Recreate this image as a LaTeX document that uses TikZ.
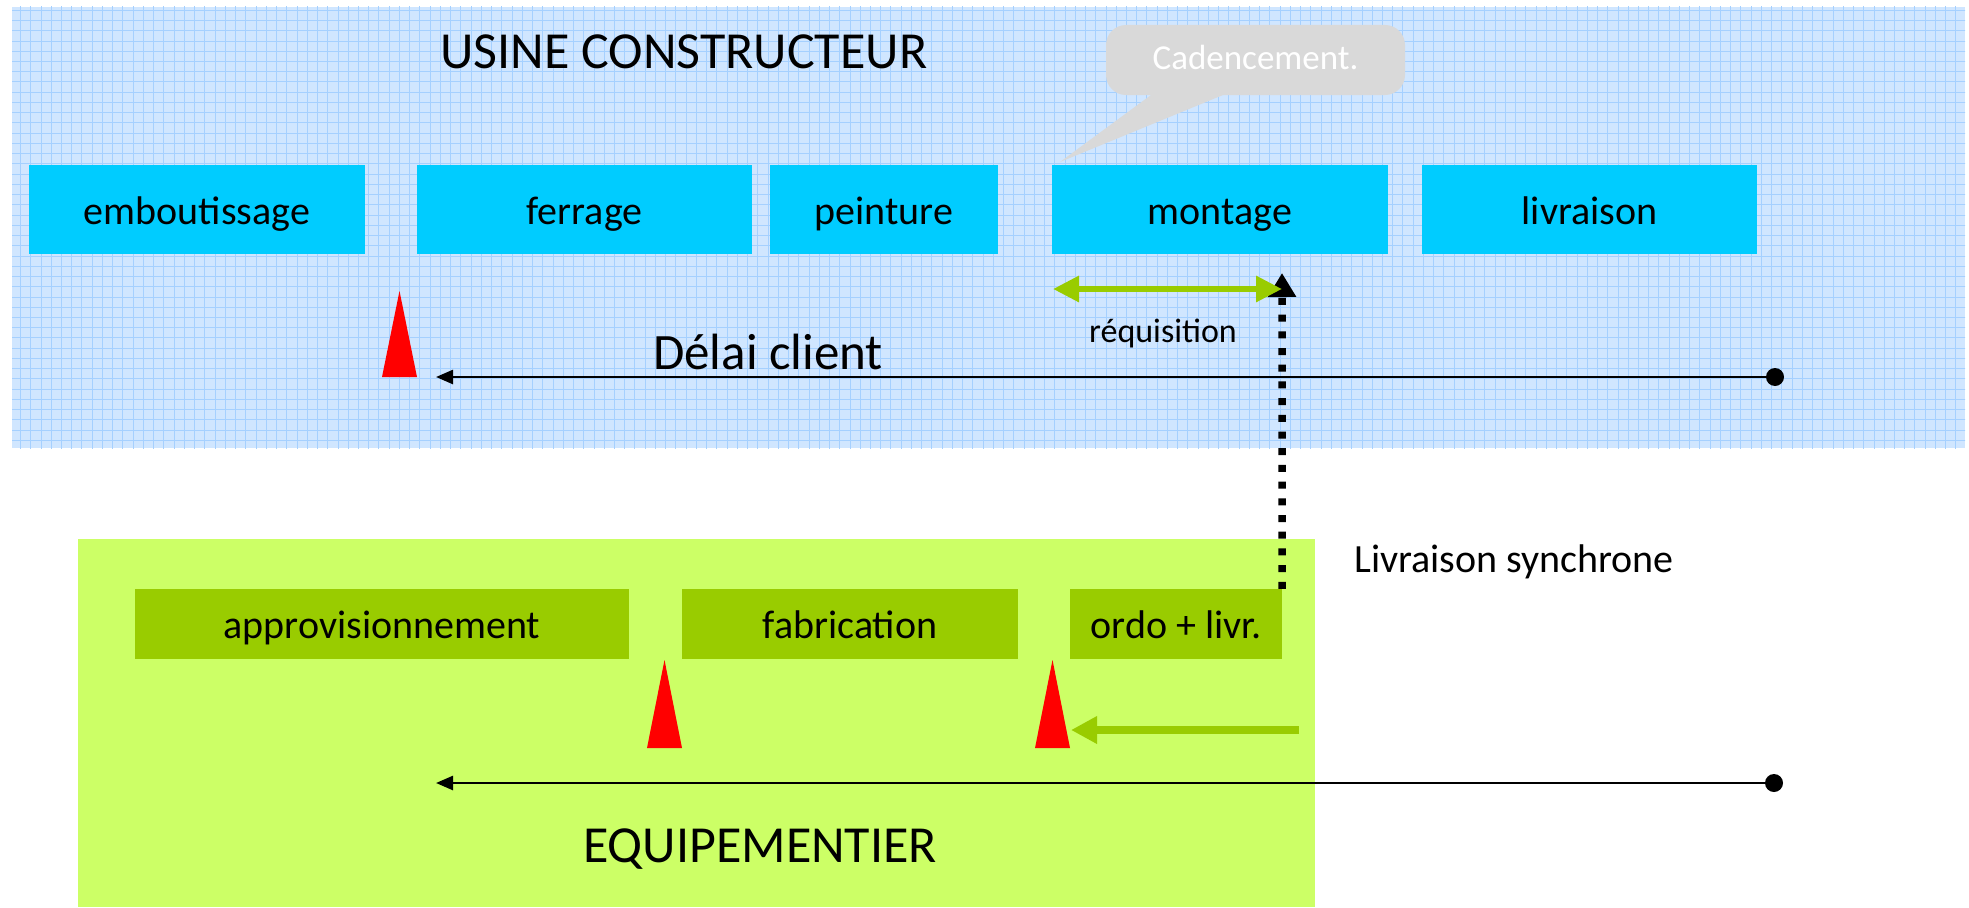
\documentclass[tikz,border=0pt]{standalone}
\usepackage{fontspec}
\setmainfont{Carlito}
\usetikzlibrary{arrows.meta,calc}
\definecolor{panelblue}{RGB}{208,230,255}
\definecolor{gridblue}{RGB}{165,208,255}
\definecolor{boxcyan}{RGB}{0,204,255}
\definecolor{panelgreen}{RGB}{204,255,102}
\definecolor{boxgreen}{RGB}{153,204,0}
\definecolor{bubblegray}{RGB}{217,217,217}
\begin{document}
\begin{tikzpicture}[x=1pt,y=-1pt,
  upbox/.style={fill=boxcyan, minimum height=89pt, inner sep=0pt,
    text height=29pt, text depth=0pt, font=\fontsize{40}{48}\selectfont},
  lowbox/.style={fill=boxgreen, minimum height=70pt, inner sep=0pt,
    text height=29pt, text depth=0pt, font=\fontsize{40}{48}\selectfont},
  label/.style={inner sep=0pt},
  bigtitle/.style={label, font=\fontsize{52}{60}\selectfont},
  milestone/.style={fill=red},
  timeline/.style={line width=2.5pt, -{Triangle[length=17pt,width=14pt]}},
  enddot/.style={circle, fill=black, minimum size=18pt, inner sep=0pt},
  greenarrow/.style={draw=boxgreen, line width=6pt},
  syncline/.style={line width=7.5pt, dash pattern=on 7pt off 9.7pt,
    -{Triangle[length=24pt,width=27pt]}},
  bubble/.style={fill=bubblegray, rounded corners=20pt, minimum width=299pt,
    minimum height=70pt, inner sep=0pt, text=white, text height=20pt,
    text depth=0pt, font=\fontsize{35}{42}\selectfont}
]
\useasboundingbox (0,0) rectangle (1969,907);

% carmaker plant: graph-paper panel
\fill[panelblue] (12,7) rectangle (1965,448);
\begin{scope}
  \clip (12,7) rectangle (1965,448);
  \draw[gridblue, line width=0.85pt, step=10.24pt] (0,0) grid (1969,450);
\end{scope}

% supplier panel
\fill[panelgreen] (78,539) rectangle (1315,907);

\node[bigtitle, anchor=base west] (usine) at (440,68) {USINE CONSTRUCTEUR};

% plant process steps
\node[upbox, minimum width=336pt] (emb) at (197,209.5) {emboutissage};
\node[upbox, minimum width=335pt] (fer) at (584.5,209.5) {ferrage};
\node[upbox, minimum width=228pt] (pei) at (884,209.5) {peinture};
\node[upbox, minimum width=336pt] (mon) at (1220,209.5) {montage};
\node[upbox, minimum width=335pt] (liv) at (1589.5,209.5) {livraison};

% call-out
\node[bubble] (cad) at (1255.5,60) {Cadencement.};
\fill[bubblegray] ($(cad.south west)+(49,-3)$) -- (1060,162)
  -- ($(cad.south west)+(124,-3)$) -- cycle;

% supplier process steps
\node[lowbox, minimum width=494pt] (appro) at (382,624) {approvisionnement};
\node[lowbox, minimum width=336pt] (fab) at (850,624) {fabrication};
\node[lowbox, minimum width=212pt] (ordo) at (1176,624) {ordo + livr.};

% order decoupling points
\fill[milestone] (382,377) -- (399.5,291) -- (417,377) -- cycle;
\fill[milestone] (647,748) -- (664.5,660) -- (682,748) -- cycle;
\fill[milestone] (1035,748) -- (1052.5,660) -- (1070,748) -- cycle;

% lead times
\node[enddot] (d1) at (1775,377) {};
\coordinate (t1) at (436,377);
\draw[timeline] (d1.center) -- (t1);
\node[label, anchor=base west, font=\fontsize{51}{60}\selectfont] (delai) at (653,369) {Délai client};

\node[enddot] (d2) at (1774,783) {};
\coordinate (t2) at (436,783);
\draw[timeline] (d2.center) -- (t2);

% synchronous delivery call
\coordinate (callend) at (1282,273);
\draw[syncline] (ordo.north east) -- (callend);

% requisition window
\coordinate (rq1) at (1053,289);
\coordinate (rq2) at (1282,289);
\draw[greenarrow, {Triangle[length=26pt,width=25pt]}-{Triangle[length=26pt,width=25pt]}] (rq1) -- (rq2);
\node[label, anchor=base, font=\fontsize{34}{40}\selectfont] (req) at (1163,342) {réquisition};

\coordinate (ga1) at (1299,730);
\coordinate (ga2) at (1071,730);
\draw[greenarrow, line width=8pt, -{Triangle[length=26pt,width=26pt]}] (ga1) -- (ga2);

\node[label, anchor=base west, font=\fontsize{40}{48}\selectfont] (sync) at (1354,572) {Livraison synchrone};
\node[bigtitle, anchor=base west] (equip) at (583,862) {EQUIPEMENTIER};
\end{tikzpicture}
\end{document}
